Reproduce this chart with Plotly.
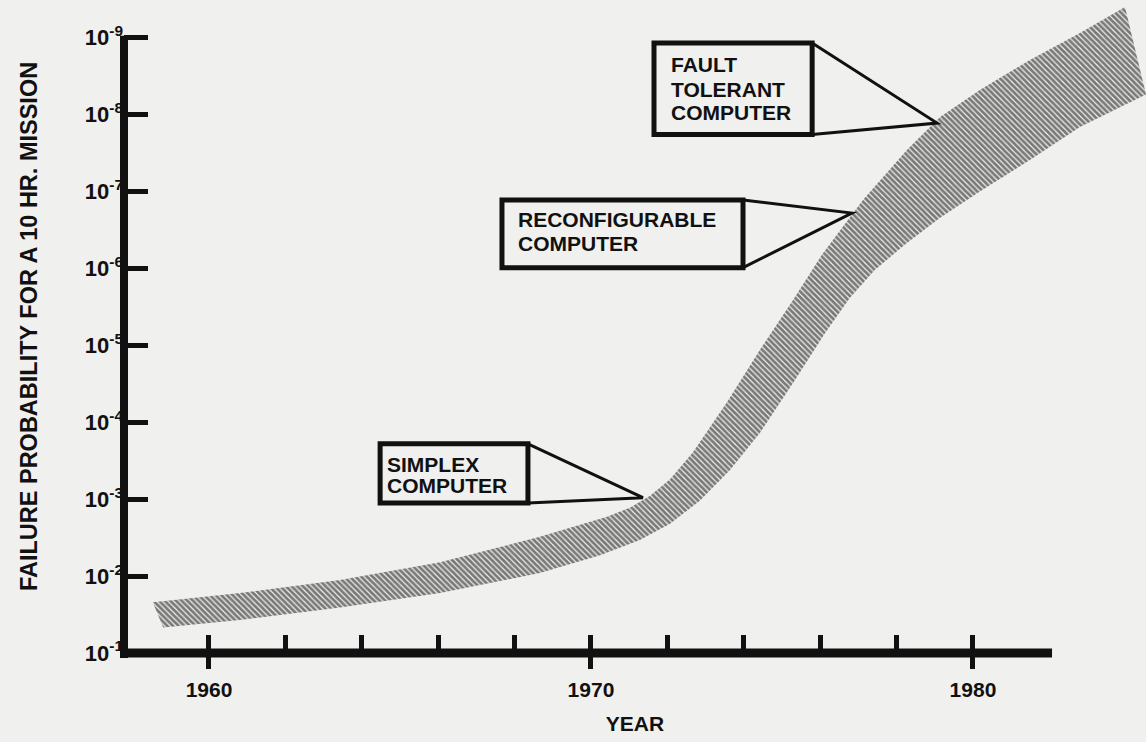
import plotly.graph_objects as go

# ---------------- data ----------------
# band: upper edge (lower failure probability) and lower edge, as -log10(probability)
upper_year = [1958.53, 1960.81, 1963.43, 1966.05, 1968.66, 1970.42, 1971.02, 1971.54,
              1972.07, 1972.67, 1973.56, 1974.42, 1975.29, 1976.05, 1977.12, 1978.27,
              1979.14, 1980.18, 1981.49, 1982.80, 1983.98]
upper_exp = [1.66, 1.78, 1.95, 2.18, 2.51, 2.77, 2.89, 3.04,
             3.26, 3.61, 4.26, 4.94, 5.59, 6.18, 6.89, 7.54,
             7.97, 8.32, 8.71, 9.06, 9.40]
lower_year = [1958.80, 1960.81, 1963.43, 1966.05, 1968.66, 1970.24, 1971.28, 1972.07,
              1972.85, 1973.64, 1974.42, 1975.29, 1976.13, 1976.78, 1977.43, 1978.22,
              1979.14, 1980.18, 1981.49, 1982.80, 1984.53]
lower_exp = [1.33, 1.43, 1.59, 1.78, 2.04, 2.27, 2.47, 2.68,
             2.98, 3.38, 3.86, 4.51, 5.16, 5.62, 5.98, 6.31,
             6.66, 7.00, 7.41, 7.84, 8.26]

y_tick_exps = [1, 2, 3, 4, 5, 6, 7, 8, 9]
y_tick_labels = ["10<sup>-1</sup>", "10<sup>-2</sup>", "10<sup>-3</sup>", "10<sup>-4</sup>",
                 "10<sup>-5</sup>", "10<sup>-6</sup>", "10<sup>-7</sup>", "10<sup>-8</sup>",
                 "10<sup>-9</sup>"]
x_small_ticks = [1960, 1962, 1964, 1966, 1968, 1970, 1972, 1974, 1976, 1978, 1980]
x_major_ticks = [1960, 1970, 1980]
x_major_labels = ["1960", "1970", "1980"]

callout_lines = [["FAULT", "TOLERANT", "COMPUTER"],
                 ["RECONFIGURABLE", "COMPUTER"],
                 ["SIMPLEX", "COMPUTER"]]

# ---------------- layout geometry ----------------
BG = "#f0f0ee"
INK = "#111111"
FONT = "Liberation Sans"
X_RANGE = [1957.775, 1984.53]
Y_RANGE = [1.0, 9.49]

# callout boxes: (x0, x1, y0, y1), pointer tip, text x, text line centers
callout_geom = [
    dict(box=(1971.65, 1975.79, 7.74, 8.93), tip=(1979.06, 7.89),
         tx=1972.05, ty=[8.653, 8.328, 8.029]),
    dict(box=(1967.67, 1973.98, 6.01, 6.89), tip=(1976.83, 6.72),
         tx=1968.04, ty=[6.637, 6.325]),
    dict(box=(1964.48, 1968.35, 2.95, 3.72), tip=(1971.36, 3.02),
         tx=1964.60, ty=[3.451, 3.178]),
]

fig = go.Figure()

band_x = upper_year + lower_year[::-1]
band_y = upper_exp + lower_exp[::-1]
fig.add_trace(go.Scatter(
    x=band_x, y=band_y, mode="lines", fill="toself",
    line=dict(width=0, color=INK),
    fillcolor=BG,
    fillpattern=dict(shape="\\", size=4, solidity=0.7, fgcolor="#000000", bgcolor=BG),
    hoverinfo="skip", showlegend=False,
))
# invisible helper trace so the labelled overlay axis is drawn
fig.add_trace(go.Scatter(x=[1960], y=[1], xaxis="x2", mode="markers",
                         marker=dict(opacity=0), hoverinfo="skip", showlegend=False))

shapes = []
plot_w = 1146 - 124
plot_h = 653
x_end_frac = (1982.07 - X_RANGE[0]) / (X_RANGE[1] - X_RANGE[0])
y_top_frac = (9 - Y_RANGE[0]) / (Y_RANGE[1] - Y_RANGE[0])
shapes.append(dict(type="line", xref="paper", yref="paper", x0=0, x1=0,
                   y0=-5 / plot_h, y1=y_top_frac + 2 / plot_h,
                   line=dict(color=INK, width=8), layer="above"))
shapes.append(dict(type="line", xref="paper", yref="paper", x0=-4 / plot_w, x1=x_end_frac,
                   y0=0, y1=0, line=dict(color=INK, width=9), layer="above"))

annotations = []
for lines, g in zip(callout_lines, callout_geom):
    x0, x1, y0, y1 = g["box"]
    tx, ty = g["tip"]
    shapes.append(dict(type="path", xref="x", yref="y",
                       path=f"M {x1},{y1} L {tx},{ty} L {x1},{y0}",
                       line=dict(color=INK, width=3), layer="above"))
    shapes.append(dict(type="rect", xref="x", yref="y", x0=x0, x1=x1, y0=y0, y1=y1,
                       line=dict(color=INK, width=5), fillcolor=BG, layer="above"))
    for txt, yy in zip(lines, g["ty"]):
        annotations.append(dict(x=g["tx"], y=yy, xref="x", yref="y", text=txt,
                                showarrow=False, xanchor="left", yanchor="middle",
                                font=dict(family=FONT, size=21, color=INK, weight="bold")))

fig.update_layout(
    width=1146, height=742,
    margin=dict(l=124, r=0, t=0, b=89),
    paper_bgcolor=BG, plot_bgcolor=BG,
    showlegend=False,
    shapes=shapes, annotations=annotations,
    xaxis=dict(range=X_RANGE, showgrid=False, zeroline=False, showline=False,
               tickvals=x_small_ticks, ticks="inside", ticklen=18, tickwidth=5,
               tickcolor=INK, showticklabels=False),
    xaxis2=dict(range=X_RANGE, overlaying="x", anchor="y", side="bottom",
                showgrid=False, zeroline=False, showline=False,
                tickvals=x_major_ticks, ticktext=x_major_labels,
                ticks="outside", ticklen=15, tickwidth=5, tickcolor=INK,
                ticklabelstandoff=3,
                tickfont=dict(family=FONT, size=21, color=INK, weight="bold"),
                title=dict(text="YEAR", standoff=16,
                           font=dict(family=FONT, size=21, color=INK, weight="bold"))),
    yaxis=dict(range=Y_RANGE, showgrid=False, zeroline=False, showline=False,
               tickvals=y_tick_exps, ticktext=y_tick_labels,
               ticks="inside", ticklen=24, tickwidth=5, tickcolor=INK,
               tickfont=dict(family=FONT, size=22, color=INK, weight="bold"),
               title=dict(text="FAILURE PROBABILITY FOR A 10 HR. MISSION", standoff=40,
                          font=dict(family=FONT, size=23.5, color=INK, weight="bold"))),
)

fig.write_html(
    "out.html",
    config={"displayModeBar": False},
    post_script="document.body.style.margin='0';document.body.style.background='%s';" % BG,
)
